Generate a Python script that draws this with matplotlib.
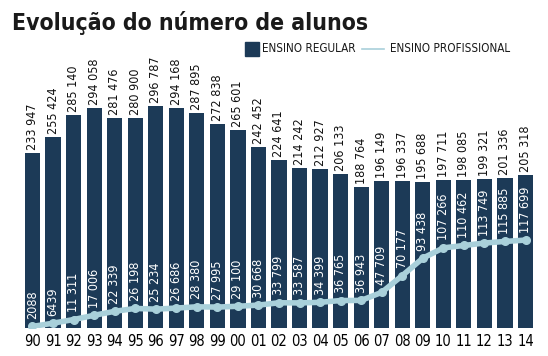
import matplotlib
matplotlib.use('Agg')
import matplotlib.pyplot as plt

plt.rcParams['font.family'] = ['DejaVu Sans']
plt.rcParams['font.stretch'] = 'condensed'

anos = ['90', '91', '92', '93', '94', '95', '96', '97', '98', '99', '00', '01',
        '02', '03', '04', '05', '06', '07', '08', '09', '10', '11', '12', '13', '14']
regular = [233947, 255424, 285140, 294058, 281476, 280900, 296787, 294168,
           287895, 272838, 265601, 242452, 224641, 214242, 212927, 206133,
           188764, 196149, 196337, 195688, 197711, 198085, 199321, 201336,
           205318]
profissional = [2088, 6439, 11311, 17006, 22339, 26198, 25234, 26686, 28380,
                27995, 29100, 30668, 33799, 33587, 34399, 36765, 36943, 47709,
                70177, 93438, 107266, 110462, 113749, 115885, 117699]

azul = '#1c3a57'
ciano = '#a9d0da'


def fmt(v):
    if v < 10000:
        return str(v)
    return f'{v:,}'.replace(',', ' ')


fig = plt.figure(figsize=(5.48, 3.56), dpi=100)
ax = fig.add_axes([22.2 / 548, 1 - 328 / 356, 513.6 / 548, 246.5 / 356])

x = range(len(anos))
ax.bar(x, regular, width=0.74, color=azul, zorder=1)
ax.plot(x, profissional, color=ciano, lw=4, marker='o', ms=5.5, zorder=2,
        solid_capstyle='round')

for i in x:
    ax.text(i, regular[i] + 4000, fmt(regular[i]), rotation=90, ha='center',
            va='bottom', fontsize=9, color='#111111', fontweight='medium')
    ax.text(i, profissional[i] + 10000, fmt(profissional[i]), rotation=90,
            ha='center', va='bottom', fontsize=9, color='white', zorder=3)

ax.set_xlim(-0.5, 24.5)
ax.set_ylim(0, 330000)
ax.set_xticks(list(x))
ax.set_xticklabels(anos, fontsize=10.5)
ax.tick_params(length=0, pad=4)
ax.set_yticks([])
for s in ax.spines.values():
    s.set_visible(False)

fig.text(12 / 548, 1 - 30 / 356, 'Evolução do número de alunos',
         fontsize=16.5, fontweight='bold', color='#1a1a1a', va='baseline')

# legenda
fig.patches.append(plt.Rectangle((245 / 548, 1 - 56 / 356), 14 / 548, 14 / 356,
                                 transform=fig.transFigure, color=azul))
fig.text(262 / 548, 1 - 49 / 356, 'ENSINO REGULAR', fontsize=8.4,
         va='center', color='#1a1a1a')
fig.lines.append(plt.Line2D([362 / 548, 384 / 548], [1 - 49 / 356, 1 - 49 / 356],
                            transform=fig.transFigure, color=ciano, lw=1.2))
fig.text(390 / 548, 1 - 49 / 356, 'ENSINO PROFISSIONAL', fontsize=8.4,
         va='center', color='#1a1a1a')

fig.savefig('out.png', dpi=100)
